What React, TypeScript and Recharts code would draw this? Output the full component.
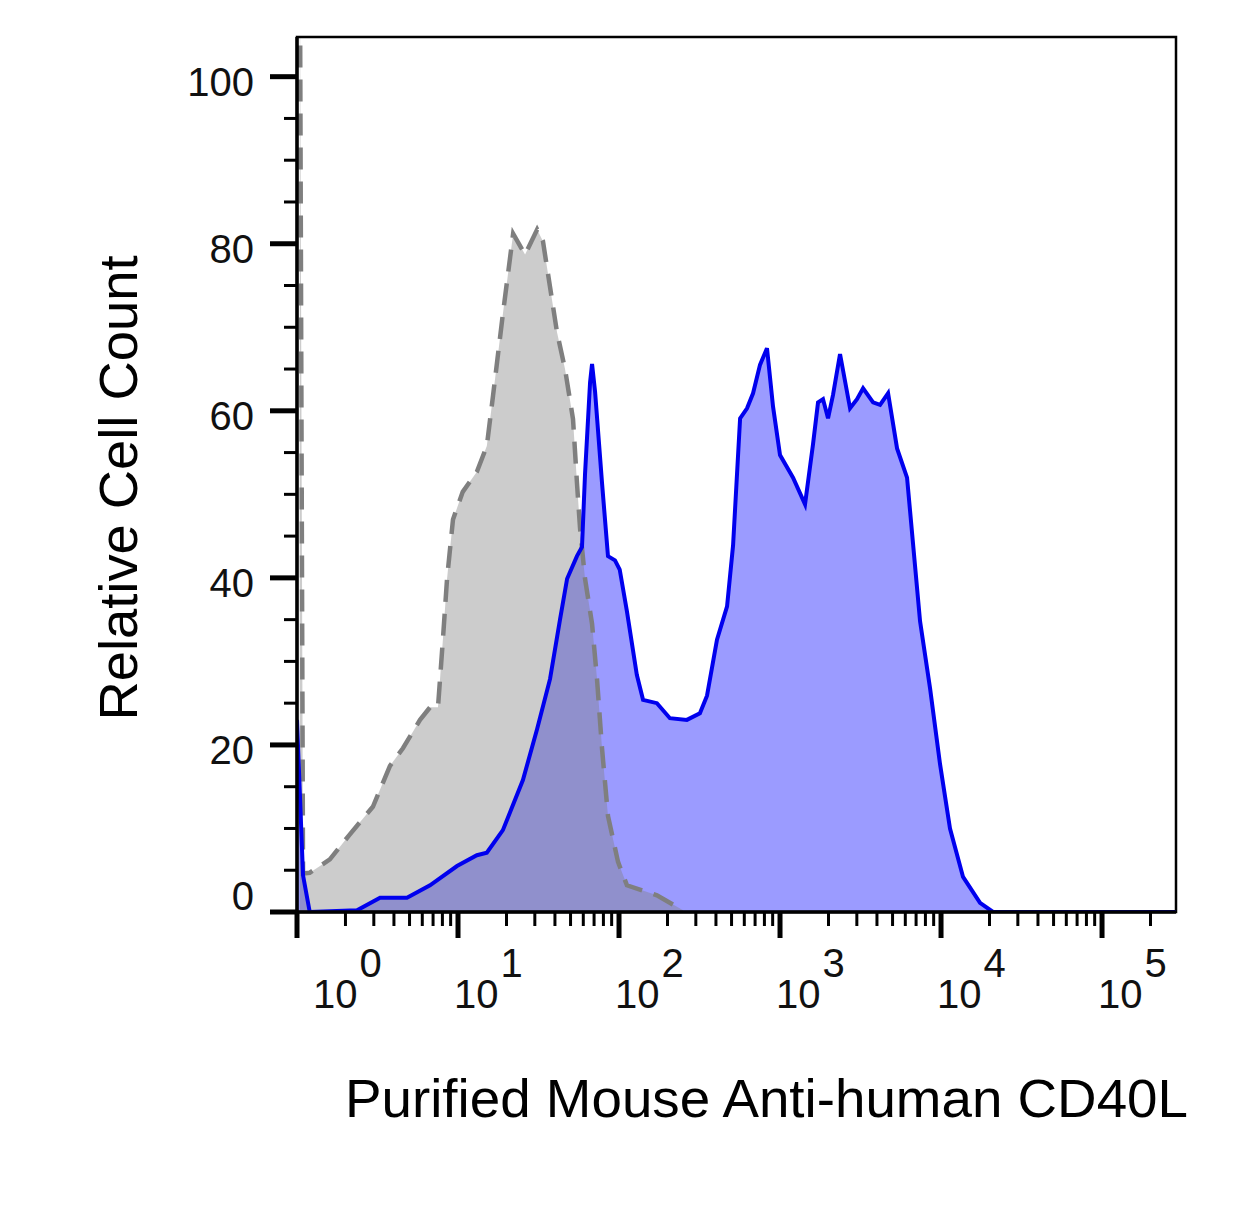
import React from 'react';
import { ComposedChart, Area, Line, XAxis, YAxis, ReferenceArea } from 'recharts';

const FONT = '"Liberation Sans", Arial, Helvetica, sans-serif';

// Control (isotype) histogram: fluorescence intensity and relative count
const grayIntensity = [1.04, 1.09, 1.2, 1.6, 2.13, 2.96, 3.78, 4.55, 5.81, 6.7, 7.51, 8.07, 8.55, 9.31, 10.7, 13.1, 15.1, 16.5, 19.0, 22.0, 26.1, 31.0, 33.7, 37.3, 41.2, 46.2, 51.8, 54.8, 57.3, 61.5, 68.0, 73.0, 78.4, 85.4, 98.6, 112, 172, 250];
const grayCount = [120, 4.6, 4.7, 6.3, 9.3, 12.6, 17.5, 19.6, 23, 24.5, 24.5, 32.8, 39.9, 47, 50.3, 52.7, 55.8, 61.8, 71.6, 81.2, 78.7, 81.7, 80.3, 74.8, 69.4, 65, 59, 51.4, 45.9, 39.9, 34.5, 27.9, 19.6, 11.5, 6, 3.2, 2, 0.2];

// Stained histogram
const blueIntensity = [1.0, 1.09, 1.2, 2.36, 3.28, 4.82, 6.7, 9.86, 13.1, 15.1, 19.0, 25.3, 31.0, 37.3, 43.0, 47.6, 54.8, 58.9, 61.5, 66.1, 68.0, 71.0, 78.4, 85.4, 94.4, 101, 112, 129, 141, 172, 207, 264, 318, 352, 406, 469, 511, 565, 624, 680, 751, 830, 905, 1000, 1205, 1430, 1603, 1722, 1849, 1987, 2134, 2359, 2722, 3008, 3280, 3784, 4181, 4690, 5333, 6151, 7410, 8545, 9860, 11370, 13700, 17470, 21040, 288000];
const blueCount = [23, 4.4, 0, 0.2, 1.7, 1.7, 3.2, 5.5, 6.8, 7.1, 9.8, 15.8, 21.9, 27.9, 35, 39.9, 42.6, 43.7, 52.4, 63.4, 65.6, 62.3, 51.4, 42.6, 42.1, 41, 36, 28.4, 25.4, 25, 23.2, 23, 23.8, 25.9, 32.6, 36.6, 43.9, 59.1, 60.3, 62.1, 65.5, 67.5, 60.5, 54.7, 52, 48.8, 56, 61, 61.4, 59.1, 61.9, 66.8, 60.3, 61.4, 62.7, 61, 60.7, 62.1, 55.5, 52, 34.8, 26.8, 17.7, 10, 4.2, 1.1, 0, 0];

const X_MIN = 1;
const X_MAX = 288000;
const Y_MAX = 104.75;
const yTicks = [0, 5, 10, 15, 20, 25, 30, 35, 40, 45, 50, 55, 60, 65, 70, 75, 80, 85, 90, 95, 100];
const decades = [0, 1, 2, 3, 4, 5];
const minorMultipliers = [1, 2, 3, 4, 5, 6, 7, 8, 9];
const xTitle = 'Purified Mouse Anti-human CD40L';
const yTitle = 'Relative Cell Count';

const xTicks: number[] = [];
decades.forEach((d) => {
  minorMultipliers.forEach((m) => {
    const v = m * Math.pow(10, d);
    if (v <= X_MAX) xTicks.push(v);
  });
});

const rowMap = new Map<number, any>();
grayIntensity.forEach((x, i) => {
  const r = rowMap.get(x) || { x };
  r.gray = grayCount[i];
  rowMap.set(x, r);
});
blueIntensity.forEach((x, i) => {
  const r = rowMap.get(x) || { x };
  r.blue = blueCount[i];
  rowMap.set(x, r);
});
const data = Array.from(rowMap.values()).sort((a, b) => a.x - b.x);

const XTick = (props: any) => {
  const { x, y, payload } = props;
  const v = payload.value;
  const lg = Math.log10(v);
  const exp = Math.round(lg);
  const major = Math.abs(lg - exp) < 1e-9;
  return (
    <g>
      <line x1={x} y1={y} x2={x} y2={y + (major ? 26 : 14)} stroke="#000" strokeWidth={major ? 5 : 3} />
      {major && (
        <text x={x + (exp === 0 ? 16 : -4)} y={y + 96} fontSize={40} fontFamily={FONT} fill="#111" textAnchor="start">
          <tspan>10</tspan>
          <tspan dx={2} dy={-31}>{exp}</tspan>
        </text>
      )}
    </g>
  );
};

const YTick = (props: any) => {
  const { x, y, payload } = props;
  const v = payload.value;
  const major = v % 20 === 0;
  return (
    <g>
      <line x1={x - (major ? 27 : 13)} y1={y} x2={x} y2={y} stroke="#000" strokeWidth={major ? 5 : 3} />
      {major && (
        <text x={x - 43} y={v === 0 ? y - 2 : y + 19} fontSize={40} fontFamily={FONT} fill="#111" textAnchor="end">
          {v}
        </text>
      )}
    </g>
  );
};

export default function App() {
  const W = 1235;
  const H = 1199;
  return (
    <div style={{ position: 'relative', width: W, height: H, background: '#fff' }}>
      <ComposedChart width={W} height={H} data={data} margin={{ top: 29, right: 67, bottom: 195, left: 189 }}>
        <Area
          dataKey="blue"
          type="linear"
          fill="#9b9bff"
          fillOpacity={1}
          stroke="none"
          connectNulls
          isAnimationActive={false}
        />
        <Area
          dataKey="gray"
          type="linear"
          fill="#808080"
          fillOpacity={0.4}
          stroke="#7f7f7f"
          strokeWidth={4.5}
          strokeDasharray="22 12"
          connectNulls
          isAnimationActive={false}
        />
        <Line
          dataKey="blue"
          type="linear"
          stroke="#0000ee"
          strokeWidth={4}
          dot={false}
          connectNulls
          isAnimationActive={false}
        />
        <ReferenceArea
          x1={X_MIN}
          x2={X_MAX}
          y1={0}
          y2={Y_MAX}
          fill="none"
          fillOpacity={0}
          stroke="#000"
          strokeWidth={2.5}
          ifOverflow="visible"
        />
        <XAxis
          dataKey="x"
          type="number"
          scale="log"
          domain={[X_MIN, X_MAX]}
          allowDataOverflow
          ticks={xTicks}
          interval={0}
          tickSize={0}
          tickMargin={0}
          tickLine={false}
          tick={(p: any) => <XTick {...p} />}
          axisLine={{ stroke: '#000', strokeWidth: 3.5 }}
          height={100}
        />
        <YAxis
          type="number"
          domain={[0, Y_MAX]}
          allowDataOverflow
          ticks={yTicks}
          interval={0}
          tickSize={0}
          tickMargin={0}
          tickLine={false}
          tick={(p: any) => <YTick {...p} />}
          axisLine={{ stroke: '#000', strokeWidth: 3.5 }}
          width={100}
        />
      </ComposedChart>
      <svg
        width={W}
        height={H}
        style={{ position: 'absolute', left: 0, top: 0, pointerEvents: 'none' }}
      >
        <text
          x={337}
          y={1109}
          fontSize={54}
          fontFamily={FONT}
          fill="#000"
          textLength={843}
          lengthAdjust="spacingAndGlyphs"
        >
          {xTitle}
        </text>
        <text
          transform="translate(129, 480) rotate(-90)"
          x={0}
          y={0}
          fontSize={54}
          fontFamily={FONT}
          fill="#000"
          textAnchor="middle"
          textLength={465}
          lengthAdjust="spacingAndGlyphs"
        >
          {yTitle}
        </text>
      </svg>
    </div>
  );
}
